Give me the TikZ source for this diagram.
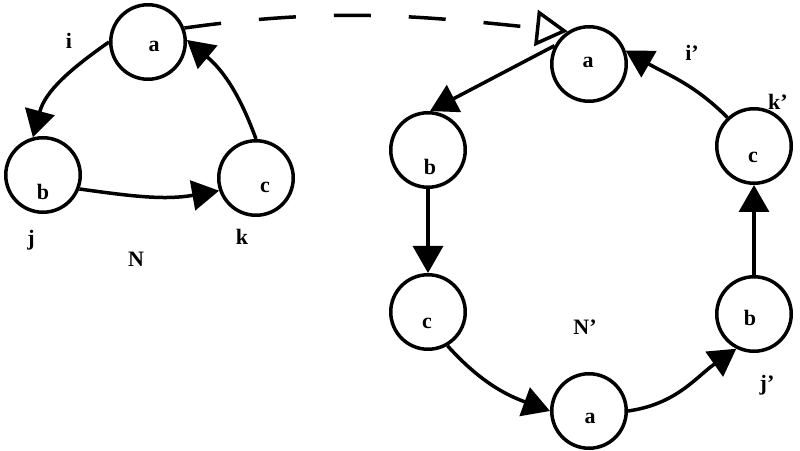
\documentclass[tikz,border=0pt]{standalone}
\usepackage{fontspec}
\setmainfont{Liberation Serif}
\usetikzlibrary{arrows.meta}
\begin{document}
\begin{tikzpicture}[x=1pt,y=1pt,
  vertex/.style={circle,draw,line width=3.5pt,minimum size=74.5pt,inner sep=0pt},
  lbl/.style={inner sep=0pt,font=\fontsize{22}{25}\selectfont\bfseries},
  edge/.style={line width=3.5pt,-{Triangle[length=27pt,width=30pt]}},
  link/.style={line width=3.5pt,dash pattern=on 37pt off 38pt,-{Triangle[open,length=32pt,width=36pt]}}]
\useasboundingbox[fill=white] (0,0) rectangle (800,450);
% left network N
\node[vertex] (La) at (148,408) {};
\node[vertex] (Lb) at (43,275) {};
\node[vertex] (Lc) at (256,272) {};
\node[lbl] (La-t) at (154,404) {a};
\node[lbl] (Lb-t) at (43,258) {b};
\node[lbl] (Lc-t) at (265,263) {c};
\node[lbl] (i) at (69,409) {i};
\node[lbl] (j) at (31,210) {j};
\node[lbl] (k) at (242,213) {k};
\node[lbl] (N) at (136,191) {N};
% right network N'
\node[vertex] (Ra) at (589,386) {};
\node[vertex] (Rb) at (428,300) {};
\node[vertex] (Rc) at (754,304) {};
\node[vertex] (Rc2) at (428,138) {};
\node[vertex] (Rb2) at (754,136) {};
\node[vertex] (Ra2) at (589,39) {};
\node[lbl] (Ra-t) at (588,388) {a};
\node[lbl] (Rb-t) at (430,283) {b};
\node[lbl] (Rc-t) at (753,293) {c};
\node[lbl] (Rc2-t) at (427,127) {c};
\node[lbl] (Rb2-t) at (750,132) {b};
\node[lbl] (Ra2-t) at (590,32) {a};
\node[lbl] (ip) at (692,397) {i’};
\node[lbl] (kp) at (778,348) {k’};
\node[lbl] (Np) at (585,123) {N’};
\node[lbl] (jp) at (767,65) {j’};
% edges of N
\draw[edge] (La.180) to[out=215,in=75] (Lb.105);
\draw[edge] (Lb.339) to[out=-8,in=190] (Lc.199);
\draw[edge] (Lc.90) to[out=110,in=-40] (La.3);
% edges of N'
\draw[edge] (Ra.152) -- (Rb.87);
\draw[edge] (Rb.270) -- (Rc2.90);
\draw[edge] (Rc2.-60) to[out=-48,in=160] (Ra2.180);
\draw[edge] (Ra2.0) to[out=8,in=215] (Rb2.243);
\draw[edge] (Rb2.90) -- (Rc.270);
\draw[edge] (Rc.133) to[out=135,in=-30] (Ra.20);
% mapping
\draw[link] (La.21) to[out=8,in=174] (Ra.123);
\end{tikzpicture}
\end{document}
